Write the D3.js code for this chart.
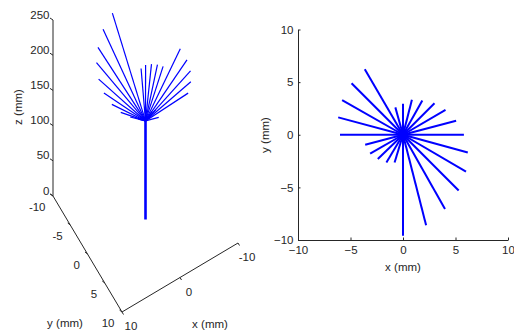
<!DOCTYPE html>
<html>
<head>
<meta charset="utf-8">
<script src="https://cdn.jsdelivr.net/npm/d3@7"></script>
<style>
  body { margin: 0; background: #fff; }
  text { font-family: "Liberation Sans", Arial, sans-serif; font-size: 11.5px; fill: #262626; }
</style>
</head>
<body>
<div id="chart"></div>
<script>
// fibre tips (mm), one every 15 degrees
var tipX = [5.8, 5.06, 4.05, 3.0, 1.84, 0.85, 0.0, -0.73, -3.64, -4.9, -5.8, -6.17,
            -6.0, -3.6, -3.13, -2.4, -1.58, -0.8, 0.0, 2.2, 4.0, 5.3, 6.0, 6.17];
var tipY = [0, 1.33, 2.37, 3.0, 3.26, 3.32, 2.94, 2.6, 6.23, 4.9, 3.3, 1.65,
            0, -0.95, -1.8, -2.3, -2.63, -2.63, -9.6, -8.6, -7.05, -5.3, -3.5, -1.68];
var tipZ = [192, 188, 185, 182, 185, 185, 180, 163, 213, 212, 210, 210,
            213, 192, 190, 190, 190, 189, 214, 210, 206, 205, 200, 196];
var trunkTop = 140;

var zTicks = [0, 50, 100, 150, 200, 250];
var yTicks3d = [-10, -5, 0, 5, 10];
var xTicks3d = [-10, 0, 10];
var xyTicks = [-10, -5, 0, 5, 10];

var svg = d3.select("#chart").append("svg")
  .attr("width", 514)
  .attr("height", 331);

var blue = "#0000ff", ink = "#262626";

// ---- left: 3d view ----
var ox = 145.5, oy = 219.5;
var xPx = d3.scaleLinear().domain([-10, 10]).range([58, -58]);
var xPy = d3.scaleLinear().domain([-10, 10]).range([-34.5, 34.5]);
var yPx = d3.scaleLinear().domain([-10, 10]).range([-34.5, 34.5]);
var yPy = d3.scaleLinear().domain([-10, 10]).range([-58, 58]);
var zPy = d3.scaleLinear().domain([0, 250]).range([0, -176]);

function proj(p) {
  return [ox + xPx(p[0]) + yPx(p[1]), oy + xPy(p[0]) + yPy(p[1]) + zPy(p[2])];
}

var line3 = d3.line()
  .x(function(d) { return proj(d)[0]; })
  .y(function(d) { return proj(d)[1]; });

var g3 = svg.append("g");

// axes
g3.append("path").attr("d", line3([[10, -10, 0], [10, -10, 250]]))
  .attr("stroke", ink).attr("fill", "none");
g3.append("path").attr("d", line3([[10, -10, 0], [10, 10, 0]]))
  .attr("stroke", ink).attr("fill", "none");
g3.append("path").attr("d", line3([[10, 10, 0], [-10, 10, 0]]))
  .attr("stroke", ink).attr("fill", "none");

zTicks.forEach(function(t) {
  var p = proj([10, -10, t]);
  g3.append("line").attr("x1", p[0]).attr("y1", p[1])
    .attr("x2", p[0] - 3).attr("y2", p[1] - 2).attr("stroke", ink);
  g3.append("text").attr("x", p[0] - 3.5).attr("y", p[1] - 1.5)
    .attr("text-anchor", "end").text(t);
});
yTicks3d.forEach(function(t) {
  var p = proj([10, t, 0]);
  g3.append("line").attr("x1", p[0]).attr("y1", p[1])
    .attr("x2", p[0] - 2.5).attr("y2", p[1] - 2).attr("stroke", ink);
  g3.append("text").attr("x", p[0] - 7.5).attr("y", p[1] + 15)
    .attr("text-anchor", "end").text(t);
});
xTicks3d.forEach(function(t) {
  var p = proj([t, 10, 0]);
  g3.append("line").attr("x1", p[0]).attr("y1", p[1])
    .attr("x2", p[0] + 1.5).attr("y2", p[1] + 2.5).attr("stroke", ink);
  g3.append("text").attr("x", p[0] + 9).attr("y", p[1] + 18)
    .attr("text-anchor", "middle").text(t);
});

g3.append("text").attr("transform", "translate(22,107) rotate(-90)")
  .attr("text-anchor", "middle").text("z (mm)");
g3.append("text").attr("x", 65).attr("y", 327)
  .attr("text-anchor", "middle").text("y (mm)");
g3.append("text").attr("x", 210).attr("y", 328)
  .attr("text-anchor", "middle").text("x (mm)");

// fibres
tipX.forEach(function(x, i) {
  g3.append("path")
    .attr("d", line3([[0, 0, trunkTop], [x, tipY[i], tipZ[i]]]))
    .attr("stroke", blue).attr("stroke-width", 1.2).attr("fill", "none");
});
g3.append("path")
  .attr("d", line3([[0, 0, 0], [0, 0, trunkTop]]))
  .attr("stroke", blue).attr("stroke-width", 2.6).attr("fill", "none");

// ---- right: top view ----
var x2 = d3.scaleLinear().domain([-10, 10]).range([298, 508]);
var y2 = d3.scaleLinear().domain([-10, 10]).range([240, 29.5]);

var g2 = svg.append("g");

g2.append("g")
  .attr("transform", "translate(0,240)")
  .call(d3.axisBottom(x2).tickValues(xyTicks).tickSizeInner(-2.5).tickSizeOuter(0).tickPadding(6));
g2.append("g")
  .attr("transform", "translate(298,0)")
  .call(d3.axisLeft(y2).tickValues(xyTicks).tickSizeInner(-2.5).tickSizeOuter(0).tickPadding(4.5));

g2.selectAll(".domain, .tick line").attr("stroke", ink);
g2.selectAll("g").attr("font-size", null).attr("font-family", null);

g2.append("text").attr("x", 403).attr("y", 271)
  .attr("text-anchor", "middle").text("x (mm)");
g2.append("text").attr("transform", "translate(269,135) rotate(-90)")
  .attr("text-anchor", "middle").text("y (mm)");

var line2 = d3.line()
  .x(function(d) { return x2(d[0]); })
  .y(function(d) { return y2(d[1]); });

tipX.forEach(function(x, i) {
  g2.append("path")
    .attr("d", line2([[0, 0], [x, tipY[i]]]))
    .attr("stroke", blue).attr("stroke-width", 2).attr("fill", "none");
});
</script>
</body>
</html>
